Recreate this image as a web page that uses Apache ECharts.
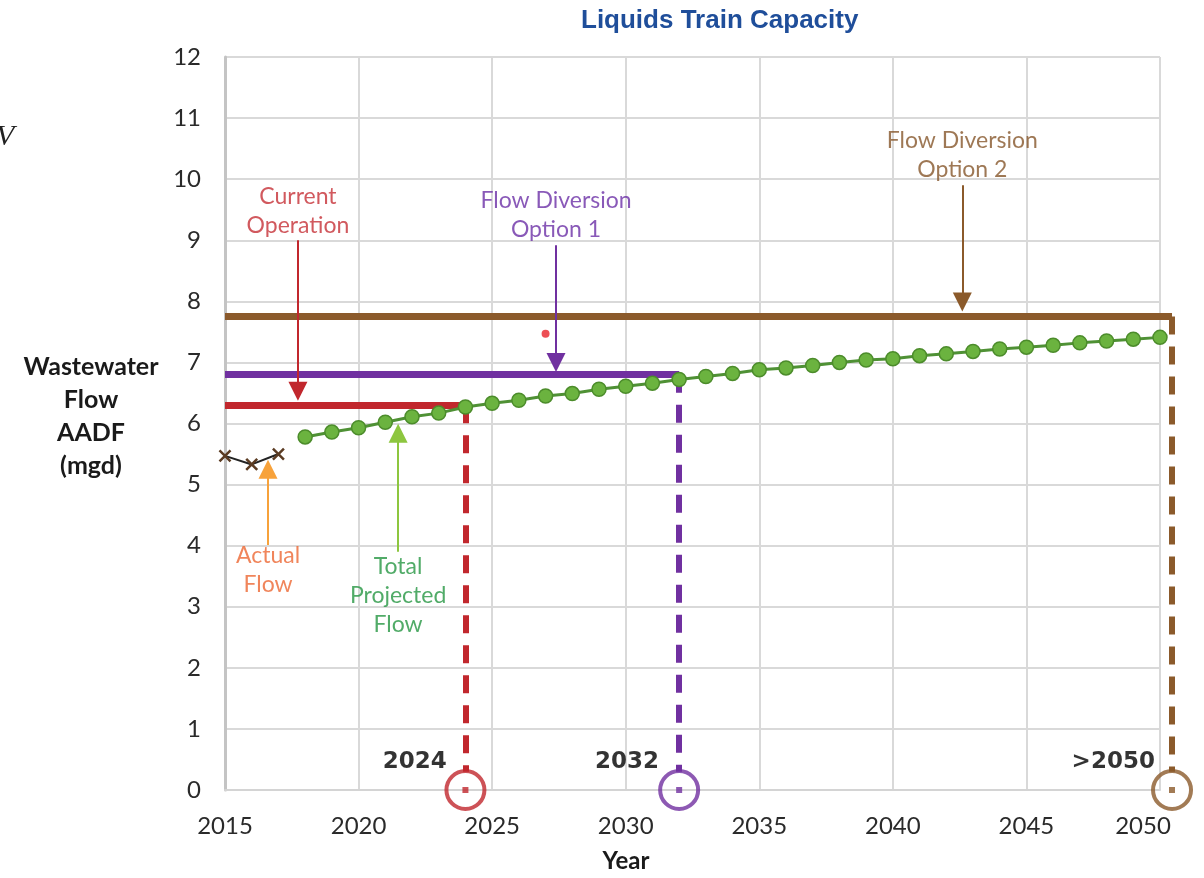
<!DOCTYPE html>
<html><head><meta charset="utf-8">
<script src="https://cdn.jsdelivr.net/npm/echarts@6/dist/echarts.min.js"></script>
<style>html,body{margin:0;padding:0;background:#fff}#c{width:1204px;height:878px}</style>
</head><body><div id="c"></div>
<script>
// ---- data ----
const actualYears = [2015, 2016, 2017];
const actualFlow = [5.47, 5.33, 5.50];
const projectedYears = [2018, 2019, 2020, 2021, 2022, 2023, 2024, 2025, 2026, 2027, 2028,
  2029, 2030, 2031, 2032, 2033, 2034, 2035, 2036, 2037, 2038, 2039, 2040, 2041, 2042,
  2043, 2044, 2045, 2046, 2047, 2048, 2049, 2050];
const projectedFlow = [5.78, 5.86, 5.93, 6.02, 6.11, 6.17, 6.27, 6.33, 6.38, 6.45, 6.49,
  6.56, 6.61, 6.66, 6.72, 6.77, 6.82, 6.88, 6.91, 6.95, 7.00, 7.04, 7.06, 7.11, 7.14,
  7.18, 7.22, 7.25, 7.28, 7.32, 7.35, 7.38, 7.41];
const capacityNames = ['Current Operation', 'Flow Diversion Option 1', 'Flow Diversion Option 2'];
const capacityValues = [6.3, 6.8, 7.75];
const capacityStartYear = 2015;
const capacityEndYears = [2024, 2032, 2050.45];
const capacityYearLabels = ['2024', '2032', '>2050'];
const strayPoint = [2027, 7.47];
const xMin = 2015, xMax = 2050, xStep = 5;
const yMin = 0, yMax = 12, yStep = 1;

// ---- styles ----
const capColors = ['#C1272D', '#7030A0', '#8B5A2B'];
const capText = ['#C62F36', '#6C30A6', '#86562A'];
const FONT = 'Lato, "Open Sans", sans-serif';
const circleTop = 0.3; // dashed drop line stops at the top of the circle marker

const series = [];
capacityValues.forEach((v, i) => {
  const end = capacityEndYears[i];
  series.push({
    type: 'lines', coordinateSystem: 'cartesian2d', name: capacityNames[i], silent: true, z: 3, clip: false,
    data: [{ coords: [[capacityStartYear, v], [end, v]] }],
    symbol: 'none',
    lineStyle: { color: capColors[i], width: 7, opacity: 1, curveness: 0 }
  });
  series.push({
    type: 'lines', coordinateSystem: 'cartesian2d', silent: true, z: 3, clip: false,
    data: [{ coords: [[end, v], [end, circleTop]] }],
    symbol: 'none',
    lineStyle: { color: capColors[i], width: 6, opacity: 1, curveness: 0, type: [18, 12] }
  });
  series.push({
    type: 'scatter', data: [[end, 0]], symbol: 'circle', symbolSize: 38, clip: false, silent: true, z: 4,
    itemStyle: { color: 'rgba(255,255,255,0)', borderColor: capColors[i], borderWidth: 4 }
  });
  series.push({
    type: 'scatter', data: [[end, 0]], symbol: 'rect', symbolSize: 6, clip: false, silent: true, z: 5,
    itemStyle: { color: capColors[i] }
  });
});

series.push({
  type: 'line', name: 'Total Projected Flow',
  data: projectedYears.map((y, i) => [y, projectedFlow[i]]),
  symbol: 'circle', symbolSize: 14, clip: false, silent: true, z: 6,
  lineStyle: { color: '#4F9135', width: 3 },
  itemStyle: { color: '#6BB33F', borderColor: '#4C8C2B', borderWidth: 1.5 }
});
series.push({
  type: 'line', name: 'Actual Flow',
  data: actualYears.map((y, i) => [y, actualFlow[i]]),
  symbol: 'path://M0,0L10,10M10,0L0,10', symbolSize: 11, clip: false, silent: true, z: 6,
  lineStyle: { color: '#222', width: 2 },
  itemStyle: { color: 'rgba(0,0,0,0)', borderColor: '#5B3B22', borderWidth: 2.5 }
});
series.push({
  type: 'scatter', data: [strayPoint], symbolSize: 8, clip: false, silent: true, z: 6,
  itemStyle: { color: '#E8232A' }
});

// arrows (data-space anchors)
const arrows = [
  { x: 2017.73, from: 9.0, to: 6.53, color: '#C1272D' },
  { x: 2027.39, from: 8.92, to: 7.0, color: '#7030A0' },
  { x: 2042.6, from: 9.9, to: 7.99, color: '#8B5A2B' },
  { x: 2016.61, from: 4.01, to: 5.25, color: '#F7A23B' },
  { x: 2021.48, from: 3.9, to: 5.84, color: '#8DC63F' }
];
arrows.forEach(a => {
  series.push({
    type: 'lines', coordinateSystem: 'cartesian2d', silent: true, z: 7, clip: false,
    data: [{ coords: [[a.x, a.from], [a.x, a.to]] }],
    symbol: ['none', 'triangle'], symbolSize: 19,
    lineStyle: { color: a.color, width: 2, opacity: 1, curveness: 0 }
  });
});

// text annotations
const notes = [
  { pos: [2017.73, 9.48], text: 'Current\nOperation', color: capText[0] },
  { pos: [2027.39, 9.41], text: 'Flow Diversion\nOption 1', color: capText[1] },
  { pos: [2042.6, 10.40], text: 'Flow Diversion\nOption 2', color: capText[2] },
  { pos: [2016.61, 3.60], text: 'Actual\nFlow', color: '#EC6632' },
  { pos: [2021.48, 3.18], text: 'Total\nProjected\nFlow', color: '#259642' },
  { pos: [2022.1, 0.46], text: capacityYearLabels[0], color: '#000', bold: true },
  { pos: [2030.05, 0.46], text: capacityYearLabels[1], color: '#000', bold: true },
  { pos: [2048.25, 0.46], text: capacityYearLabels[2], color: '#000', bold: true }
];
series.push({
  type: 'scatter', silent: true, clip: false, z: 8, symbolSize: 1,
  itemStyle: { color: 'rgba(0,0,0,0)' },
  data: notes.map(n => ({
    value: n.pos,
    label: {
      show: true, position: 'inside', formatter: n.text, color: n.color,
      fontFamily: n.bold ? '"DejaVu Sans", sans-serif' : FONT,
      fontWeight: n.bold ? 'bold' : 'normal',
      fontSize: 23, lineHeight: 29, align: 'center', verticalAlign: 'middle'
    }
  }))
});

const chart = echarts.init(document.getElementById('c'), null, { renderer: 'canvas' });
chart.setOption({
  animation: false,
  backgroundColor: '#fff',
  grid: { left: 225, right: 44, top: 57, bottom: 88, containLabel: false },
  xAxis: {
    type: 'value', min: xMin, max: xMax, interval: xStep,
    axisLine: { show: true, onZero: false, lineStyle: { color: '#d4d4d4', width: 2 } },
    axisTick: { show: false },
    splitLine: { show: true, lineStyle: { color: '#d9d9d9', width: 2 } },
    axisLabel: {
      margin: 24,
      formatter: v => v === xMax ? '{e|' + v + '}' : '{n|' + v + '}',
      rich: {
        n: { fontFamily: FONT, fontSize: 24, color: '#2a2a2a' },
        e: { fontFamily: FONT, fontSize: 24, color: '#2a2a2a', padding: [0, 34, 0, 0] }
      }
    }
  },
  yAxis: {
    type: 'value', min: yMin, max: yMax, interval: yStep,
    axisLine: { show: true, lineStyle: { color: '#c4c4c4', width: 3 } },
    axisTick: { show: false },
    splitLine: { show: true, lineStyle: { color: '#d9d9d9', width: 2 } },
    axisLabel: { margin: 24, fontFamily: FONT, fontSize: 24, color: '#2a2a2a' }
  },
  graphic: [
    { type: 'text', left: 720 - 139, top: 8, style: { text: 'Liquids Train Capacity', fill: '#1F4E9A', font: 'bold 26px "Liberation Sans", Arial, sans-serif' } },
    { type: 'text', x: 91, y: 350, style: { text: 'Wastewater\nFlow\nAADF\n(mgd)', fill: '#1a1a1a', font: 'bold 25px Lato, sans-serif', lineHeight: 33, align: 'center', verticalAlign: 'top' } },
    { type: 'text', x: 626, y: 849, style: { text: 'Year', fill: '#1a1a1a', font: 'bold 24px Lato, sans-serif', align: 'center', verticalAlign: 'top' } },
    { type: 'text', x: -4, y: 122, style: { text: 'V', fill: '#222', font: 'italic 30px "Liberation Serif", serif', verticalAlign: 'top' } }
  ],
  series: series
});
</script></body></html>
